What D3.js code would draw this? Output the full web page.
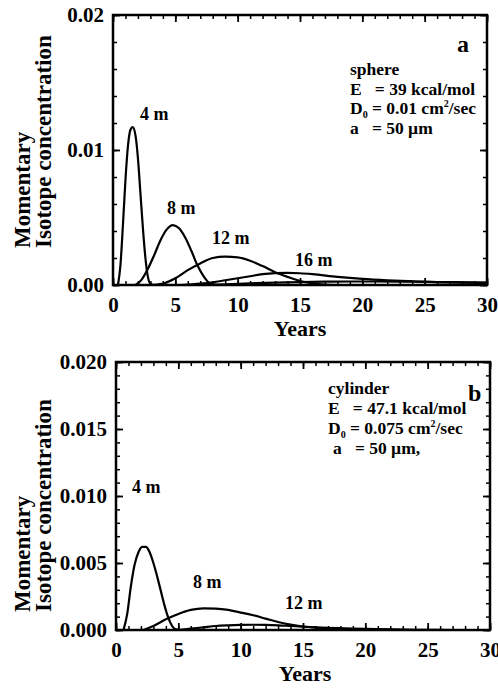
<!DOCTYPE html>
<html>
<head>
<meta charset="utf-8">
<script src="https://cdn.jsdelivr.net/npm/d3@7"></script>
<style>
  body { margin: 0; background: #fff; }
  svg { display: block; }
  svg text { font-family: "Liberation Serif", "DejaVu Serif", "Times New Roman", serif !important; font-weight: bold; fill: #000; }
</style>
</head>
<body>
<svg id="fig" width="498" height="693"></svg>
<script>
// ---- data: [years, concentration] ----
var xTicks = [0, 5, 10, 15, 20, 25, 30];

// panel a : sphere
var sphereYTicks = [0, 0.01, 0.02];
var sphere4 = [[0.4,0],[0.6,0.0015],[0.8,0.0045],[1.0,0.0078],[1.2,0.0103],[1.4,0.0115],[1.58,0.0117],[1.8,0.0111],[2.0,0.0094],[2.2,0.0068],[2.4,0.0042],[2.6,0.002],[2.8,0.0006],[3.0,0.0001],[3.3,0]];
var sphere8 = [[1.8,0],[2.3,0.0004],[2.8,0.0012],[3.3,0.0022],[3.8,0.0033],[4.3,0.0041],[4.8,0.00444],[5.3,0.0042],[5.8,0.0035],[6.3,0.0025],[6.8,0.0014],[7.3,0.0006],[7.8,0.0001],[8.3,0]];
var sphere12 = [[3.2,0],[4,0.0001],[5,0.0005],[6,0.0011],[7,0.0016],[8,0.002],[9,0.0021],[10,0.00205],[11,0.0018],[12,0.0014],[13,0.00095],[14,0.0006],[15,0.0003],[16,0.00012],[17,0.00003],[18,0]];
var sphere16 = [[5.5,0],[7,0.0001],[8,0.0002],[9,0.00035],[10,0.0005],[11,0.00065],[12,0.0008],[13,0.00088],[14,0.0009],[15,0.00087],[16,0.0008],[18,0.0006],[20,0.00045],[22,0.00035],[24,0.00028],[26,0.00022],[28,0.00018],[30,0.00015]];
var sphere20 = [[7,0],[9,0.00005],[11,0.00012],[13,0.00018],[15,0.00022],[17,0.00025],[19,0.00026],[21,0.00026],[23,0.00025],[25,0.00023],[27,0.00021],[30,0.00018]];

// panel b : cylinder
var cylYTicks = [0, 0.005, 0.01, 0.015, 0.02];
var cyl4 = [[0.6,0],[0.9,0.0012],[1.2,0.0033],[1.5,0.0049],[1.8,0.0058],[2.1,0.0062],[2.4,0.0062],[2.7,0.0058],[3.0,0.005],[3.3,0.004],[3.6,0.0029],[3.9,0.0018],[4.2,0.0009],[4.5,0.0003],[4.8,0.00005],[5.1,0]];
var cyl8 = [[2.2,0],[3,0.0003],[4,0.0008],[5,0.0012],[6,0.0015],[7,0.00162],[8,0.0016],[9,0.0015],[10,0.0013],[11,0.0011],[12,0.00085],[13,0.0006],[14,0.0004],[15,0.00026],[16,0.00017],[18,0.00008],[20,0.00003],[23,0]];
var cyl12 = [[5,0],[6,0.0001],[7,0.0002],[8,0.0003],[9,0.00035],[10,0.00038],[11,0.00039],[12,0.00038],[13,0.00035],[14,0.0003],[15,0.00025],[17,0.00016],[19,0.0001],[21,0.00006],[24,0.00002],[27,0]];

var svg = d3.select('#fig');
var SERIF = '"Liberation Serif", "DejaVu Serif", "Times New Roman", serif';

function panel(o) {
    var w = o.w, h = o.h;
    var g = svg.append('g').attr('transform', 'translate(' + o.left + ',' + o.top + ')');
    var x = d3.scaleLinear().domain([0, 30]).range([0, w]);
    var y = d3.scaleLinear().domain([0, o.ymax]).range([h, 0]);

    // minor ticks (inward, all four sides)
    var xMinor = d3.range(0, 31, 1), yMinor = d3.range(0, o.ymax + 1e-9, o.yMinor);
    var mk = [
        [d3.axisBottom(x), 'translate(0,' + h + ')', xMinor],
        [d3.axisTop(x), null, xMinor],
        [d3.axisLeft(y), null, yMinor],
        [d3.axisRight(y), 'translate(' + w + ',0)', yMinor]
    ];
    mk.forEach(function (m) {
        var a = g.append('g').attr('transform', m[1])
            .call(m[0].tickValues(m[2]).tickSize(-4).tickFormat(''));
        a.select('.domain').remove();
        a.selectAll('line').attr('stroke-width', 1.5);
    });

    // major ticks with labels
    var bx = g.append('g').attr('transform', 'translate(0,' + h + ')')
        .call(d3.axisBottom(x).tickValues(xTicks).tickSize(-7).tickPadding(12).tickFormat(d3.format('d')));
    var ly = g.append('g')
        .call(d3.axisLeft(y).tickValues(o.yTicks).tickSize(-7).tickPadding(9).tickFormat(d3.format(o.fmt)));
    var ty = g.append('g').call(d3.axisTop(x).tickValues(xTicks).tickSize(-7).tickFormat(''));
    var ry = g.append('g').attr('transform', 'translate(' + w + ',0)')
        .call(d3.axisRight(y).tickValues(o.yTicks).tickSize(-7).tickFormat(''));
    [bx, ly, ty, ry].forEach(function (a) {
        a.attr('font-family', SERIF);
        a.select('.domain').remove();
        a.selectAll('line').attr('stroke-width', 1.8);
        a.selectAll('text').attr('font-size', 21).attr('fill', '#000');
    });
    bx.selectAll('text').attr('dy', '0.71em');

    // curves
    g.append('clipPath').attr('id', 'clip' + o.id).append('rect').attr('width', w).attr('height', h);
    var line = d3.line().x(function (d) { return x(d[0]); }).y(function (d) { return y(d[1]); })
        .curve(d3.curveMonotoneX);
    g.append('g').attr('clip-path', 'url(#clip' + o.id + ')')
        .selectAll('path').data(o.series).enter().append('path')
        .attr('d', line).attr('fill', 'none').attr('stroke', '#000').attr('stroke-width', 2.2);

    // frame
    g.append('rect').attr('width', w).attr('height', h)
        .attr('fill', 'none').attr('stroke', '#000').attr('stroke-width', 2.5);

    // curve labels
    o.labels.forEach(function (l) {
        g.append('text').attr('x', l[1]).attr('y', l[2]).attr('font-size', 18).text(l[0]);
    });

    // panel letter
    g.append('text').attr('x', o.letter[1]).attr('y', o.letter[2]).attr('font-size', 24).text(o.letter[0]);

    // parameter block
    var t = o.info, bx0 = t.x, by0 = t.y, lh = t.lh, fs = 17.5;
    g.append('text').attr('x', bx0).attr('y', by0).attr('font-size', fs).text(t.shape);
    g.append('text').attr('x', bx0).attr('y', by0 + lh).attr('font-size', fs).attr('xml:space', 'preserve').text(t.E);
    var dt = g.append('text').attr('x', bx0).attr('y', by0 + 2 * lh).attr('font-size', fs);
    dt.append('tspan').text('D');
    dt.append('tspan').attr('font-size', 10).attr('dy', 4).text('0');
    dt.append('tspan').attr('dy', -4).text(' = ' + t.D + ' cm');
    dt.append('tspan').attr('font-size', 10).attr('dy', -7).text('2');
    dt.append('tspan').attr('dy', 7).text('/sec');
    g.append('text').attr('x', bx0 + t.ax).attr('y', by0 + 3 * lh).attr('font-size', fs).attr('xml:space', 'preserve').text(t.a);

    // axis titles
    g.append('text').attr('x', w / 2 + o.yearsDx).attr('y', h + 51).attr('text-anchor', 'middle')
        .attr('font-size', 22).text('Years');
    var yt = g.append('g').attr('transform', 'translate(' + (-o.left) + ',' + o.titleY + ') rotate(-90)');
    yt.append('text').attr('x', 0).attr('y', 30).attr('font-size', 23).text('Momentary');
    yt.append('text').attr('x', 0).attr('y', 51).attr('font-size', 23).text('Isotope concentration');
}

panel({
    id: 'a', left: 113, top: 15, w: 374, h: 270, ymax: 0.02, yMinor: 0.002,
    yTicks: sphereYTicks, fmt: '.2f',
    series: [sphere4, sphere8, sphere12, sphere16, sphere20],
    labels: [['4 m', 27, 105], ['8 m', 54, 199], ['12 m', 99, 229], ['16 m', 182, 251]],
    letter: ['a', 344, 37],
    info: { x: 237, y: 60, lh: 19.5, shape: 'sphere', E: 'E   = 39 kcal/mol', D: '0.01', a: 'a   = 50 \u00b5m', ax: 0 },
    yearsDx: 0, titleY: 233
});

panel({
    id: 'b', left: 116, top: 362, w: 374, h: 268, ymax: 0.02, yMinor: 0.001,
    yTicks: cylYTicks, fmt: '.3f',
    series: [cyl4, cyl8, cyl12],
    labels: [['4 m', 16, 131], ['8 m', 77, 226], ['12 m', 169, 247]],
    letter: ['b', 352, 39],
    info: { x: 212, y: 32, lh: 20, shape: 'cylinder', E: 'E   = 47.1 kcal/mol', D: '0.075', a: 'a   = 50 \u00b5m,', ax: 5 },
    yearsDx: 2, titleY: 250
});

svg.selectAll('text').attr('font-family', SERIF).style('font-family', SERIF).style('font-weight', 'bold');
</script>
</body>
</html>
